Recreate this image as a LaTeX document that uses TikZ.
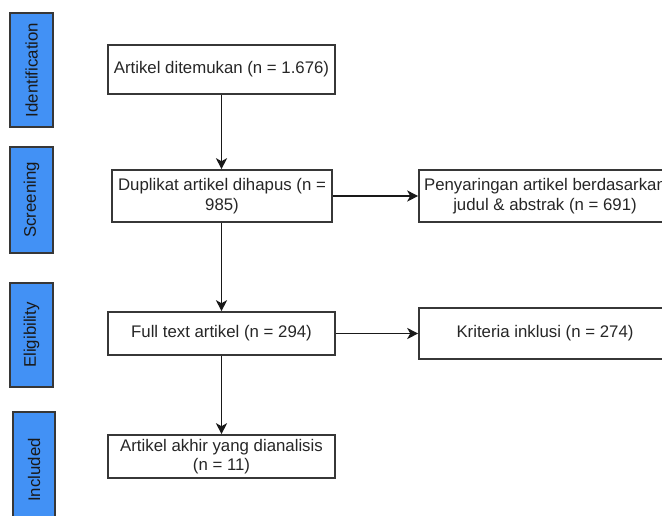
\documentclass[tikz,border=0pt]{standalone}
\usepackage{fontspec}
\setmainfont{Liberation Sans}
\usetikzlibrary{arrows.meta}
\definecolor{phase}{RGB}{66,145,245}
\definecolor{edge}{RGB}{55,55,55}
\begin{document}
\begin{tikzpicture}[x=1pt,y=-1pt,
  txt/.style={font=\fontsize{16.8}{19.5}\selectfont},
  box/.style={txt, draw=edge, line width=1.6pt, rectangle, inner sep=0pt, align=center, text=black!85},
  phasebox/.style={txt, draw=edge, line width=1.6pt, fill=phase, rectangle, inner sep=0pt, rotate=90, text=black!90},
  arr/.style={draw=black!90, line width=1.5pt, -{Stealth[length=11pt,width=11pt,inset=3pt]}}]
\useasboundingbox (0,0) rectangle (662,515);
\clip (0,0) rectangle (662,515);
% phase labels
\node[phasebox, minimum width=114pt, minimum height=43pt] (id)  at (31.5,70) {Identification};
\node[phasebox, minimum width=106pt, minimum height=43pt] (scr) at (31.5,200) {Screening};
\node[phasebox, minimum width=104pt, minimum height=43pt] (eli) at (31.5,335) {Eligibility};
\node[phasebox, minimum width=116pt, minimum height=42pt] (inc) at (34,470) {Included};
% main boxes
\node[box, minimum width=227pt, minimum height=49pt] (b1) at (221.5,69.5) {Artikel ditemukan (n = 1.676)};
\node[box, minimum width=220pt, minimum height=52pt] (b2) at (222,196) {Duplikat artikel dihapus (n =\\985)};
\node[box, minimum width=252pt, minimum height=52pt] (b3) at (545,196) {Penyaringan artikel berdasarkan\\judul \& abstrak (n = 691)};
\node[box, minimum width=227pt, minimum height=43pt] (b4) at (221.5,333.5) {Full text artikel (n = 294)};
\node[box, minimum width=252pt, minimum height=51pt] (b5) at (545,333.5) {Kriteria inklusi (n = 274)};
\node[box, minimum width=227pt, minimum height=43pt] (b6) at (221.5,456.5) {Artikel akhir yang dianalisis\\(n = 11)};
% connectors
\draw[arr] (b1.south) -- (b1.south |- b2.north);
\draw[arr] (b2.south -| b4.north) -- (b4.north);
\draw[arr] (b4.south) -- (b6.north);
\draw[arr] (b2.east) -- (b3.west);
\draw[arr] (b4.east) -- (b4.east -| b5.west);
\end{tikzpicture}
\end{document}
